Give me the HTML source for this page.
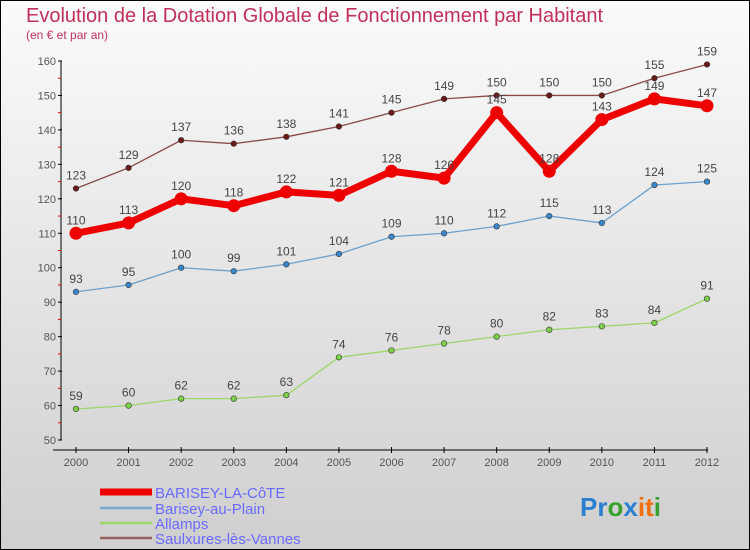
<!DOCTYPE html>
<html><head><meta charset="utf-8"><style>
body{margin:0}
#c{width:750px;height:550px;position:relative;box-sizing:border-box;border:1px solid #000;background:linear-gradient(#fbfbfb,#cfcfcf);font-family:"Liberation Sans",sans-serif;overflow:hidden}
</style></head><body>
<div id="c">
<svg id="s" width="750" height="550" style="position:absolute;left:-1px;top:-1px">
<text x="26" y="22" font-size="20" fill="#c0305a">Evolution de la Dotation Globale de Fonctionnement par Habitant</text>
<text x="26" y="39" font-size="12" fill="#c0305a">(en € et par an)</text>
<g id="axes"></g><g id="series"></g><g id="legend"></g>
<text x="580" y="516" font-size="26" font-weight="bold"><tspan fill="#2a7fd0">Pr</tspan><tspan fill="#3aa030">o</tspan><tspan fill="#2a7fd0">x</tspan><tspan fill="#f07010">it</tspan><tspan fill="#3aa030">i</tspan></text>
</svg>
</div>
<script>
const years=[2000,2001,2002,2003,2004,2005,2006,2007,2008,2009,2010,2011,2012];
const yTicks=[50,60,70,80,90,100,110,120,130,140,150,160];
const barisey=[110,113,120,118,122,121,128,126,145,128,143,149,147];
const plain=[93,95,100,99,101,104,109,110,112,115,113,124,125];
const allamps=[59,60,62,62,63,74,76,78,80,82,83,84,91];
const saulx=[123,129,137,136,138,141,145,149,150,150,150,155,159];
const names=["BARISEY-LA-CôTE","Barisey-au-Plain","Allamps","Saulxures-lès-Vannes"];
const NS="http://www.w3.org/2000/svg";
const X=i=>76+i*(707-76)/(years.length-1);
const Y=v=>440-(v-50)*(440-61)/110;
function mk(tag,at,par){const e=document.createElementNS(NS,tag);for(const k in at)e.setAttribute(k,at[k]);par.appendChild(e);return e;}
const ax=document.getElementById('axes');
let l=mk('line',{x1:61,y1:Y(160),x2:61,y2:Y(50),stroke:'#000'},ax);


l=mk('line',{x1:53,y1:450,x2:708,y2:450,stroke:'#000'},ax);


yTicks.forEach(v=>{mk('line',{x1:58,y1:Y(v),x2:62,y2:Y(v),stroke:'#000'},ax);
 if(v<160)mk('line',{x1:58,y1:Y(v+5),x2:61,y2:Y(v+5),stroke:'#e00'},ax);
 const t=mk('text',{x:56,y:Y(v)+4,'font-size':11,'text-anchor':'end',fill:'#555'},ax);t.textContent=v;
 
 });
years.forEach((y,i)=>{mk('line',{x1:X(i),y1:447,x2:X(i),y2:453,stroke:'#000'},ax);
 const t=mk('text',{x:X(i),y:466,'font-size':11,'text-anchor':'middle',fill:'#555'},ax);t.textContent=y;
 
 });
const sg=document.getElementById('series');
const defs=[[saulx,'#8a4a4a','#6a1a1a',1.3,2.8,'saulxures'],[allamps,'#9ed66a','#7cd04a',1.3,2.8,'allamps'],[plain,'#6ea0cc','#3a88cc',1.3,2.8,'barisey-au-plain'],[barisey,'#ee0000','#ee0000',7,6.5,'barisey-la-cote']];
defs.forEach(([d,lc,pc,w,r,n])=>{
 const g=mk('g',{},sg);
 
 
 const p=mk('polyline',{points:d.map((v,i)=>X(i)+','+Y(v)).join(' '),fill:'none',stroke:lc,'stroke-width':w,'stroke-linejoin':'round'},g);
 
 
 d.forEach((v,i)=>{const c=mk('circle',{cx:X(i),cy:Y(v),r:r,fill:pc,stroke:w>2?'none':'#333','stroke-width':0.6},g);
  
  
  const t=mk('text',{x:X(i),y:Y(v)-9,'font-size':12,'text-anchor':'middle',fill:'#444'},g);t.textContent=v;
  
  });
});
const lg=document.getElementById('legend');
const lcols=['#ee0000','#7aaad0','#9ed66a','#9a6060'],lw=[7,2.5,2.5,2.5],ly=[492,508,523,538];
names.forEach((n,i)=>{const g=mk('g',{},lg);
 
 
 mk('line',{x1:100,y1:ly[i],x2:152,y2:ly[i],stroke:lcols[i],'stroke-width':lw[i]},g);
 const t=mk('text',{x:155,y:ly[i]+6,'font-size':15,fill:'#6a6aff'},g);t.textContent=n;});
</script>
</body></html>
